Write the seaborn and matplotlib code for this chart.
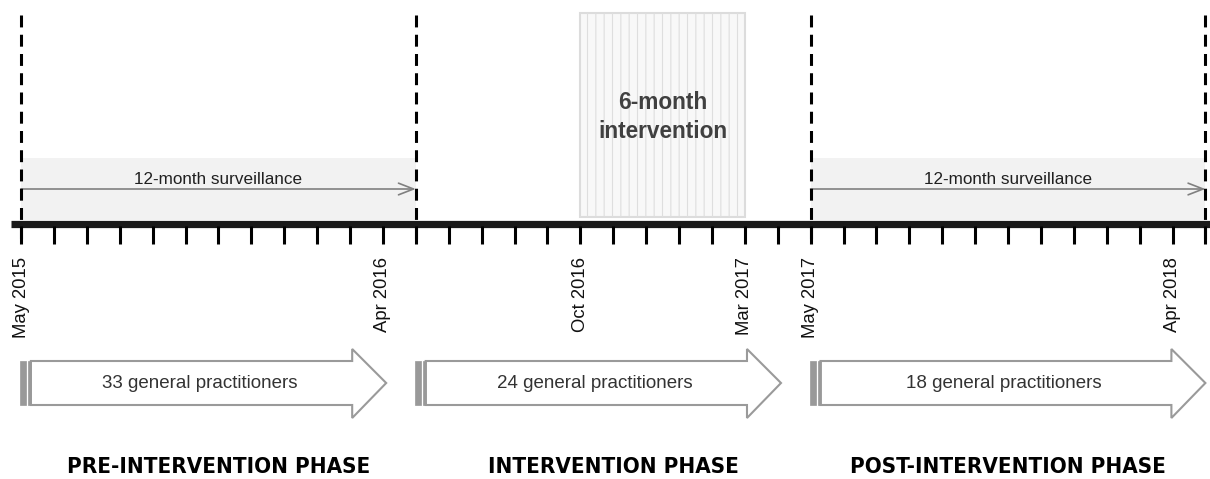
import numpy as np
import pandas as pd
import matplotlib
matplotlib.use("Agg")
import matplotlib.pyplot as plt
import seaborn as sns
from matplotlib.patches import Polygon, Rectangle

# ---- data ----
month_labels = ["May 2015", "Apr 2016", "Oct 2016", "Mar 2017", "May 2017", "Apr 2018"]
month_label_pos = [0, 11, 17, 22, 24, 35]
n_months = 36
phase_bounds = [0, 12, 24, 36]
phase_names = ["PRE-INTERVENTION PHASE", "INTERVENTION PHASE", "POST-INTERVENTION PHASE"]
gp_counts = [33, 24, 18]
gp_arrow_start = [0, 12, 24]
gp_arrow_end = [11.1, 23.1, 36.0]
surveillance_start = [0, 24]
surveillance_end = [12, 36]
surveillance_label = "12-month surveillance"
intervention_start = 17
intervention_end = 22
intervention_label = "6-month\nintervention"

# ---- style ----
sns.set_theme(style="white")
plt.rcParams["font.family"] = ["Liberation Sans", "DejaVu Sans"]
plt.rcParams["hatch.linewidth"] = 0.8

W, H = 1210, 479
fig = plt.figure(figsize=(W / 100, H / 100), dpi=100)
ax = fig.add_axes([0, 0, 1, 1])
px_per_month = 32.9
x0_px = 21
ax.set_xlim(-x0_px / px_per_month, (W - x0_px) / px_per_month)
ax.set_ylim(H, 0)
ax.axis("off")

axis_y = 223.5
tick_top, tick_bot = 226, 244

# surveillance shaded regions + arrows
for s, e in zip(surveillance_start, surveillance_end):
    ax.add_patch(Rectangle((s, 158), e - s, 62, facecolor="#f2f2f2", edgecolor="none", zorder=1))
    ax.annotate("", xy=(e, 189), xytext=(s, 189),
                arrowprops=dict(arrowstyle="->,head_length=0.9,head_width=0.35",
                                color="#808080", lw=1.2, shrinkA=0, shrinkB=0), zorder=3)
    ax.text((s + e) / 2, 180, surveillance_label, ha="center", va="center",
            fontsize=12.3, color="#202020", zorder=4)

# intervention box
ax.add_patch(Rectangle((intervention_start, 13), intervention_end - intervention_start, 204,
                       facecolor="#f8f8f8", edgecolor="#dcdcdc", lw=1.5, zorder=1))
ax.add_patch(Rectangle((intervention_start, 13), intervention_end - intervention_start, 204,
                       facecolor="none", edgecolor="#dedede", hatch="||", lw=0, zorder=1))
ax.text((intervention_start + intervention_end) / 2, 117, intervention_label,
        ha="center", va="center", fontsize=16.3, fontweight="bold", color="#404040",
        linespacing=1.3, zorder=4)

# main axis line via seaborn
line_df = pd.DataFrame({"x": [-10 / px_per_month, (W - x0_px + 5) / px_per_month],
                        "y": [axis_y, axis_y]})
sns.lineplot(data=line_df, x="x", y="y", ax=ax, color="#1a1a1a", lw=5.2,
             solid_capstyle="butt", zorder=5)

# month ticks
months = np.arange(n_months + 1)
ax.vlines(months, tick_top, tick_bot, color="black", lw=2.2, zorder=5)

# phase boundaries (dashed)
ax.vlines(phase_bounds, 15, tick_bot, color="black", lw=2.2,
          linestyles=(0, (3.9, 2.4)), zorder=6)

# date labels
for lab, pos in zip(month_labels, month_label_pos):
    ax.text(pos, 257, lab, rotation=90, ha="center", va="top", fontsize=13.3, color="#111111")

# block arrows
body_top, body_bot = 361, 405
head_top, head_bot = 349, 418
mid_y = (body_top + body_bot) / 2
head_len = 34 / px_per_month
for s, e, n in zip(gp_arrow_start, gp_arrow_end, gp_counts):
    xs = s - 0.03
    hb = e - head_len
    pts = [(xs + 0.33, body_top), (hb, body_top), (hb, head_top), (e, mid_y),
           (hb, head_bot), (hb, body_bot), (xs + 0.33, body_bot)]
    ax.add_patch(Polygon(pts, closed=True, facecolor="white", edgecolor="#9a9a9a",
                         lw=1.5, joinstyle="miter", zorder=3))
    ax.add_patch(Rectangle((xs, body_top), 0.19, body_bot - body_top,
                           facecolor="#999999", edgecolor="#999999", lw=0.5, zorder=4))
    ax.add_patch(Rectangle((xs + 0.25, body_top), 0.09, body_bot - body_top,
                           facecolor="#999999", edgecolor="#999999", lw=0.5, zorder=4))
    ax.text((xs + e) / 2 - 0.1, mid_y, f"{n} general practitioners", ha="center",
            va="center", fontsize=13.5, color="#333333", zorder=5)

# phase labels
for i, name in enumerate(phase_names):
    c = (phase_bounds[i] + phase_bounds[i + 1]) / 2
    ax.text(c, 467, name, ha="center", va="center", fontsize=16, fontweight="bold",
            family="DejaVu Sans", fontstretch="condensed", color="black")

fig.savefig("out.png", dpi=100)
